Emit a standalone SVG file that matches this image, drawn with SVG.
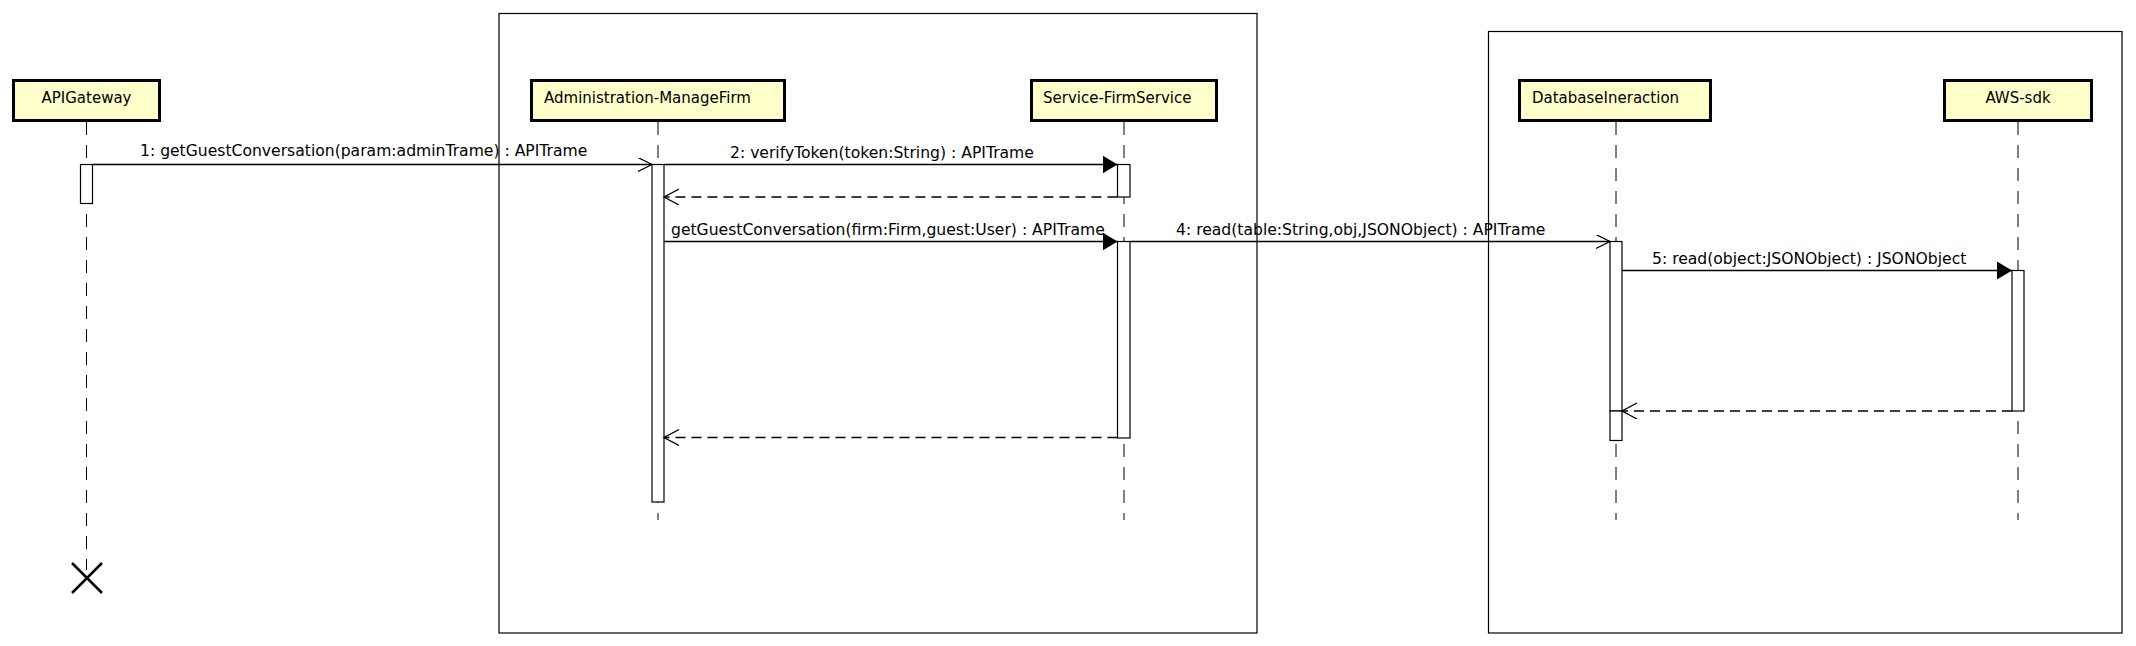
<svg xmlns="http://www.w3.org/2000/svg" width="2136" height="646" viewBox="0 0 2136 646">
<defs>
<marker id="open" markerWidth="16" markerHeight="16" refX="14" refY="7" orient="auto" markerUnits="userSpaceOnUse">
<path d="M0,0 L14,7 L0,14" fill="none" stroke="#000" stroke-width="1.2"/>
</marker>
<marker id="filled" markerWidth="16" markerHeight="20" refX="15" refY="9" orient="auto" markerUnits="userSpaceOnUse">
<path d="M0,0 L15,9 L0,18 Z" fill="#000"/>
</marker>
<marker id="ret" markerWidth="16" markerHeight="18" refX="15" refY="8" orient="auto" markerUnits="userSpaceOnUse">
<path d="M0,0 L15,8 L0,16" fill="none" stroke="#000" stroke-width="1.2"/>
</marker>
</defs>
<style>
text{font-family:"DejaVu Sans","Liberation Sans",sans-serif;font-size:15px;fill:#000}
.m{font-size:15.6px}
.head{fill:#ffffcc;stroke:#000;stroke-width:3}
.frame{fill:none;stroke:#000;stroke-width:1.2}
.life{stroke:#000;stroke-width:1;stroke-dasharray:13 10;fill:none}
.act{fill:#fff;stroke:#000;stroke-width:1.2}
.msg{stroke:#000;stroke-width:1.3;fill:none}
.sync{marker-end:url(#filled)}
.async{marker-end:url(#open)}
.reply{stroke-dasharray:10 6;marker-end:url(#ret)}
.c{text-anchor:middle}
</style>
<rect width="2136" height="646" fill="#fff"/>
<g id="frames">
<rect class="frame" x="499" y="13.5" width="758" height="619.5"/>
<rect class="frame" x="1488.5" y="31.5" width="633.5" height="601.5"/>
</g>
<g id="APIGateway">
<line class="life" x1="86.5" y1="122" x2="86.5" y2="570"/>
<rect class="head" x="13.5" y="80.5" width="146" height="40"/>
<text class="c" x="86.5" y="102.5">APIGateway</text>
<rect class="act" x="80.5" y="164.5" width="12" height="39"/>
<path d="M72,563 L102,593 M102,563 L72,593" stroke="#000" stroke-width="2.5" fill="none"/>
</g>
<g id="Administration-ManageFirm">
<line class="life" x1="658" y1="122" x2="658" y2="520"/>
<rect class="head" x="531.5" y="80.5" width="253" height="40"/>
<text x="544" y="102.5">Administration-ManageFirm</text>
<rect class="act" x="652" y="164.5" width="12" height="337.5"/>
</g>
<g id="Service-FirmService">
<line class="life" x1="1124" y1="122" x2="1124" y2="520"/>
<rect class="head" x="1031.5" y="80.5" width="185" height="40"/>
<text x="1043" y="102.5">Service-FirmService</text>
<rect class="act" x="1117.5" y="164.5" width="12.5" height="32.5"/>
<rect class="act" x="1117.5" y="241.5" width="12.5" height="196.5"/>
</g>
<g id="DatabaseIneraction">
<line class="life" x1="1616" y1="122" x2="1616" y2="520"/>
<rect class="head" x="1519.5" y="80.5" width="191" height="40"/>
<text x="1532" y="102.5">DatabaseIneraction</text>
<rect class="act" x="1610" y="241.5" width="12" height="169.5"/>
<rect class="act" x="1610" y="411" width="12" height="29.5"/>
</g>
<g id="AWS-sdk">
<line class="life" x1="2018" y1="122" x2="2018" y2="520"/>
<rect class="head" x="1944.5" y="80.5" width="147" height="40"/>
<text class="c" x="2018" y="102.5">AWS-sdk</text>
<rect class="act" x="2012" y="270.5" width="12" height="140.5"/>
</g>
<g id="connectors">
<line class="msg async" x1="92.5" y1="164.5" x2="652" y2="164.5"/>
<text class="m" x="140" y="156">1: getGuestConversation(param:adminTrame) : APITrame</text>
<line class="msg sync" x1="664" y1="164.5" x2="1117.5" y2="164.5"/>
<text class="m" x="730" y="158">2: verifyToken(token:String) : APITrame</text>
<line class="msg reply" x1="1117.5" y1="197" x2="664" y2="197"/>
<line class="msg sync" x1="664" y1="241.5" x2="1117.5" y2="241.5"/>
<text class="m" x="671" y="235">getGuestConversation(firm:Firm,guest:User) : APITrame</text>
<line class="msg async" x1="1130" y1="241.5" x2="1610" y2="241.5"/>
<text class="m" x="1176" y="235">4: read(table:String,obj,JSONObject) : APITrame</text>
<line class="msg sync" x1="1622" y1="270.5" x2="2012" y2="270.5"/>
<text class="m" x="1652" y="264">5: read(object:JSONObject) : JSONObject</text>
<line class="msg reply" x1="2012" y1="411" x2="1622" y2="411"/>
<line class="msg reply" x1="1117.5" y1="437.5" x2="664" y2="437.5"/>
</g>
</svg>
